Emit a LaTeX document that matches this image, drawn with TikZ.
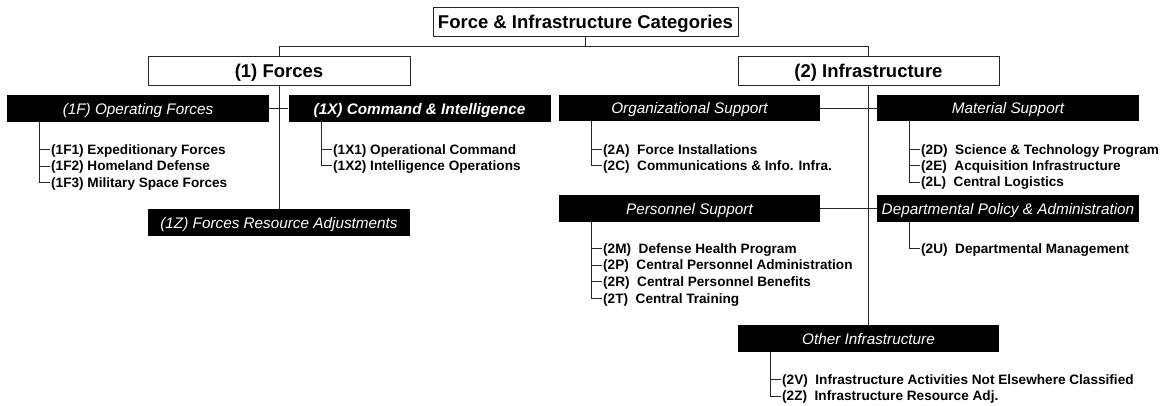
\documentclass[tikz,border=0pt]{standalone}
\usepackage{fontspec}
\setmainfont{Liberation Sans}
\begin{document}
\begin{tikzpicture}[x=1pt,y=-1pt,
  line/.style={draw=black!85, line width=0.9pt},
  whitebox/.style={draw=black!85, line width=0.9pt, fill=white, inner sep=0pt, minimum height=29pt, text height=13.3pt, text depth=0pt, font=\fontsize{18.5}{20}\selectfont\bfseries},
  blackbox/.style={fill=black, text=white, inner sep=0pt, minimum width=262pt, minimum height=26.5pt, text height=11pt, text depth=0pt, font=\fontsize{15.3}{17}\selectfont\itshape},
  item/.style={anchor=west, inner xsep=1pt, inner ysep=0pt, text height=9.7pt, text depth=0pt, font=\fontsize{13.6}{15}\selectfont\bfseries},
]
\useasboundingbox (0,0) rectangle (1168,405);

% top levels
\node[whitebox, minimum width=305pt] (title) at (585.5,21.5) {Force \& Infrastructure Categories};
\node[whitebox, minimum width=262pt] (forces) at (279,70.5) {(1) Forces};
\node[whitebox, minimum width=261pt] (infra) at (868.5,70.5) {(2) Infrastructure};
\coordinate (bus) at (585.5,46);
\draw[line] (title.south) -- (bus);
\draw[line] (forces.north) -- (forces.north |- bus) -- (infra.north |- bus) -- (infra.north);

% black category boxes
\node[blackbox] (opf) at (138,108.5) {(1F) Operating Forces};
\node[blackbox, font=\fontsize{15.3}{17}\selectfont\bfseries\itshape] (cmd) at (419.5,108.5) {(1X) Command \& Intelligence};
\node[blackbox] (fra) at (279,222.5) {(1Z) Forces Resource Adjustments};
\node[blackbox, minimum width=261pt] (org) at (689.5,108) {Organizational Support};
\node[blackbox] (mat) at (1008,108) {Material Support};
\node[blackbox, minimum width=261pt] (per) at (689.5,208.5) {Personnel Support};
\node[blackbox] (dep) at (1008,208.5) {Departmental Policy \& Administration};
\node[blackbox, minimum width=261pt] (oth) at (868.5,338.5) {Other Infrastructure};

\draw[line] (forces.south) -- (fra.north);
\draw[line] (opf.east) -- (cmd.west);
\draw[line] (infra.south) -- (oth.north);
\draw[line] (org.east) -- (mat.west);
\draw[line] (per.east) -- (dep.west);

% items
\node[item] (f1) at (50,149.3) {(1F1) Expeditionary Forces};
\node[item] (f2) at (50,166) {(1F2) Homeland Defense};
\node[item] (f3) at (50,182.7) {(1F3) Military Space Forces};
\foreach \i in {f1,f2,f3} \draw[line] ([xshift=33pt]opf.south west) |- (\i.west);

\node[item] (x1) at (332,149.3) {(1X1) Operational Command};
\node[item] (x2) at (332,165.7) {(1X2) Intelligence Operations};
\foreach \i in {x1,x2} \draw[line] ([xshift=33pt]cmd.south west) |- (\i.west);

\node[item] (a1) at (602,149.3) {(2A)~~Force Installations};
\node[item] (a2) at (602,165.7) {(2C)~~Communications \& Info. Infra.};
\foreach \i in {a1,a2} \draw[line] ([xshift=33pt]org.south west) |- (\i.west);

\node[item] (m1) at (920,149.3) {(2D)~~Science \& Technology Program};
\node[item] (m2) at (920,165.7) {(2E)~~Acquisition Infrastructure};
\node[item] (m3) at (920,182) {(2L)~~Central Logistics};
\foreach \i in {m1,m2,m3} \draw[line] ([xshift=33pt]mat.south west) |- (\i.west);

\node[item] (p1) at (602,248.3) {(2M)~~Defense Health Program};
\node[item] (p2) at (602,265) {(2P)~~Central Personnel Administration};
\node[item] (p3) at (602,281.7) {(2R)~~Central Personnel Benefits};
\node[item] (p4) at (602,298.3) {(2T)~~Central Training};
\foreach \i in {p1,p2,p3,p4} \draw[line] ([xshift=33pt]per.south west) |- (\i.west);

\node[item] (d1) at (920,248.3) {(2U)~~Departmental Management};
\draw[line] ([xshift=33pt]dep.south west) |- (d1.west);

\node[item] (o1) at (781,379.3) {(2V)~~Infrastructure Activities Not Elsewhere Classified};
\node[item] (o2) at (781,396) {(2Z)~~Infrastructure Resource Adj.};
\foreach \i in {o1,o2} \draw[line] ([xshift=33pt]oth.south west) |- (\i.west);
\end{tikzpicture}
\end{document}
